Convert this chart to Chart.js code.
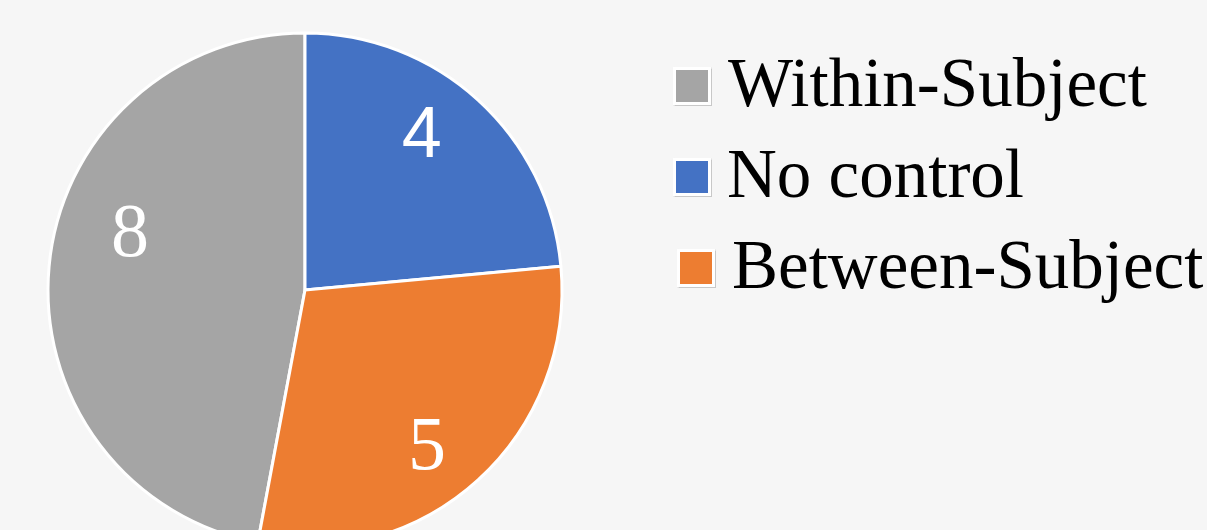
<!DOCTYPE html>
<html>
<head>
<meta charset="utf-8">
<script src="https://cdn.jsdelivr.net/npm/chart.js@4/dist/chart.umd.min.js"></script>
<style>
  html, body { margin: 0; padding: 0; background: #f6f6f6; overflow: hidden; width: 1207px; height: 530px; }
  #wrap { position: absolute; left: 0; top: 0; width: 1207px; height: 580px; }
  #legend { position: absolute; left: 673px; top: 0; font-family: "Liberation Serif", "Times New Roman", serif; font-size: 69px; color: #000; }
  .item { position: absolute; left: 0; white-space: nowrap; line-height: 1; }
  .box { position: absolute; width: 32px; height: 32px; border: 3px solid #fff; box-shadow: 0 0 1px 0.5px #c8c8c8; }
  .lbl { position: absolute; left: 55px; }
  .val { position: absolute; color: #fff; line-height: 1; transform: translate(-50%, -50%); white-space: nowrap; }
  .serif { font-family: "Liberation Serif", "Times New Roman", serif; font-size: 76px; }
  .sans { font-family: "Liberation Sans", Arial, sans-serif; font-size: 72px; }
</style>
</head>
<body>
<div id="wrap"><canvas id="c" width="1207" height="580"></canvas></div>
<div id="legend"></div>
<div id="values"></div>
<script>
const categories = ["Within-Subject", "No control", "Between-Subject"];
const counts = [8, 4, 5];
const colors = ["#A5A5A5", "#4472C4", "#ED7D31"];
const labelClass = ["serif", "sans", "serif"];
// where each value label sits inside its slice (fraction along the arc, fraction of radius)
const labelAlong = [0.58, 0.43, 0.535];
const labelRadius = [0.72, 0.765, 0.76];

const total = counts.reduce((a, b) => a + b, 0);
const startRotation = -360 * counts[0] / total;

const valueLabels = {
  id: 'valueLabels',
  afterRender(chart) {
    const holder = document.getElementById('values');
    holder.innerHTML = '';
    const meta = chart.getDatasetMeta(0);
    meta.data.forEach((arc, i) => {
      const p = arc.getProps(['x', 'y', 'startAngle', 'endAngle', 'outerRadius'], true);
      const ang = p.startAngle + (p.endAngle - p.startAngle) * labelAlong[i];
      const r = p.outerRadius * labelRadius[i];
      const x = p.x + Math.cos(ang) * r;
      const y = p.y + Math.sin(ang) * r;
      const el = document.createElement('div');
      el.className = 'val ' + labelClass[i];
      el.textContent = String(chart.data.datasets[0].data[i]);
      el.style.left = x + 'px';
      el.style.top = y + 'px';
      holder.appendChild(el);
    });
  }
};

new Chart(document.getElementById('c'), {
  type: 'pie',
  data: {
    labels: categories,
    datasets: [{
      data: counts,
      backgroundColor: colors,
      borderColor: '#ffffff',
      borderWidth: 3,
      radius: 257
    }]
  },
  options: {
    responsive: false,
    animation: false,
    rotation: startRotation,
    layout: { padding: { left: 0, top: 0, right: 597, bottom: 0 } },
    plugins: { legend: { display: false }, tooltip: { enabled: false } }
  },
  plugins: [valueLabels]
});

const legend = document.getElementById('legend');
const baselines = [107, 198, 289];
const boxLeft = [0, 0, 4];
const textLeft = [55, 54, 59];
categories.forEach((name, i) => {
  const item = document.createElement('div');
  item.className = 'item';
  const box = document.createElement('div');
  box.className = 'box';
  box.style.background = colors[i];
  box.style.left = boxLeft[i] + 'px';
  box.style.top = (baselines[i] - 40) + 'px';
  const lbl = document.createElement('div');
  lbl.className = 'lbl';
  lbl.textContent = name;
  lbl.style.left = textLeft[i] + 'px';
  lbl.style.top = (baselines[i] - 58) + 'px';
  item.appendChild(box);
  item.appendChild(lbl);
  legend.appendChild(item);
});
</script>
</body>
</html>
